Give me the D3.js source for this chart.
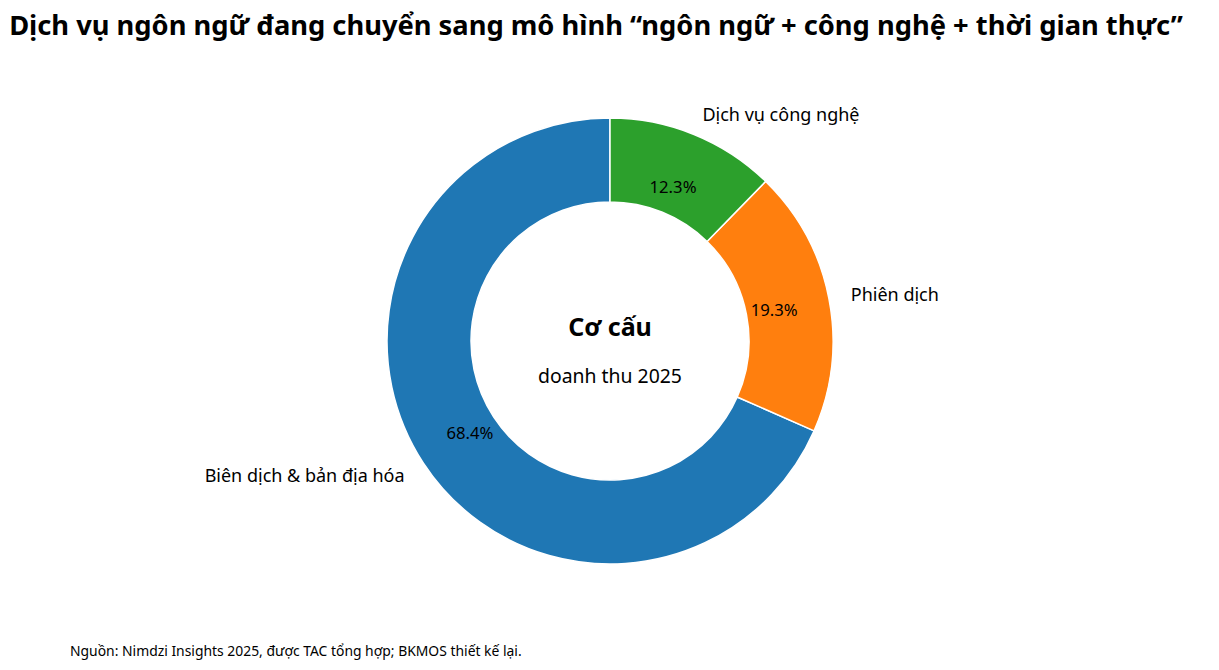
<!DOCTYPE html>
<html>
<head>
<meta charset="utf-8">
<script src="https://cdn.jsdelivr.net/npm/d3@7"></script>
<style>
  body { margin: 0; background: #fff; }
  text { font-family: "Noto Sans", sans-serif; fill: #000; }
</style>
</head>
<body>
<div id="chart"></div>
<script>
const categories = ["Biên dịch & bản địa hóa", "Phiên dịch", "Dịch vụ công nghệ"];
const shares = [68.4, 19.3, 12.3];
const colors = ["#1f77b4", "#ff7f0e", "#2ca02c"];

const width = 1219, height = 670;
const cx = 610, cy = 341;
const outerR = 223, innerR = 139;

const svg = d3.select("#chart")
  .append("svg")
  .attr("width", width)
  .attr("height", height);

// title
svg.append("text")
  .attr("x", 596)
  .attr("y", 35)
  .attr("text-anchor", "middle")
  .style("font-size", "27.3px")
  .style("font-weight", "bold")
  .text("Dịch vụ ngôn ngữ đang chuyển sang mô hình “ngôn ngữ + công nghệ + thời gian thực”");

const data = categories.map((c, i) => ({ name: c, value: shares[i], color: colors[i] }));

// counterclockwise from 12 o'clock, like matplotlib startangle=90
const pie = d3.pie()
  .value(d => d.value)
  .sort(null)
  .startAngle(0)
  .endAngle(-2 * Math.PI);

const arc = d3.arc().innerRadius(innerR).outerRadius(outerR);

const g = svg.append("g")
  .attr("transform", "translate(" + cx + "," + cy + ")");

const slices = pie(data);

g.selectAll(".slice")
  .data(slices)
  .enter()
  .append("path")
  .attr("class", "slice")
  .attr("d", arc)
  .attr("fill", d => d.data.color)
  .attr("stroke", "#fff")
  .attr("stroke-width", 1.5);

const mid = d => (d.startAngle + d.endAngle) / 2;

// percentages
g.selectAll(".pct")
  .data(slices)
  .enter()
  .append("text")
  .attr("class", "pct")
  .attr("x", d => Math.sin(mid(d)) * outerR * 0.75)
  .attr("y", d => -Math.cos(mid(d)) * outerR * 0.75)
  .attr("text-anchor", "middle")
  .attr("dominant-baseline", "central")
  .style("font-size", "16.7px")
  .text(d => d.data.value.toFixed(1) + "%");

// category labels
g.selectAll(".lbl")
  .data(slices)
  .enter()
  .append("text")
  .attr("class", "lbl")
  .attr("x", d => Math.sin(mid(d)) * outerR * 1.1)
  .attr("y", d => -Math.cos(mid(d)) * outerR * 1.1)
  .attr("text-anchor", d => Math.sin(mid(d)) < 0 ? "end" : "start")
  .attr("dominant-baseline", "central")
  .style("font-size", "18px")
  .text(d => d.data.name);

// center text
g.append("text")
  .attr("y", -15)
  .attr("text-anchor", "middle")
  .attr("dominant-baseline", "central")
  .style("font-size", "25px")
  .style("font-weight", "bold")
  .text("Cơ cấu");

g.append("text")
  .attr("y", 34)
  .attr("text-anchor", "middle")
  .attr("dominant-baseline", "central")
  .style("font-size", "19.4px")
  .text("doanh thu 2025");

// source
svg.append("text")
  .attr("x", 70)
  .attr("y", 656)
  .style("font-size", "13.9px")
  .text("Nguồn: Nimdzi Insights 2025, được TAC tổng hợp; BKMOS thiết kế lại.");
</script>
</body>
</html>
